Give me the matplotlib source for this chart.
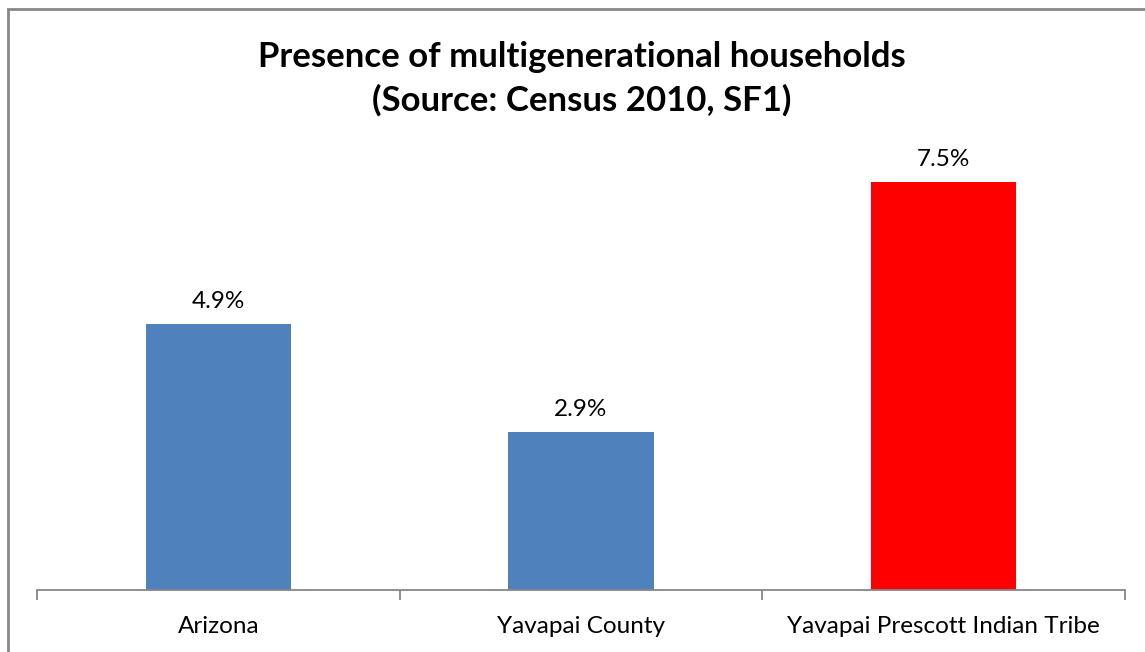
import matplotlib
matplotlib.use("Agg")
import matplotlib.pyplot as plt
from matplotlib.patches import Rectangle

categories = ["Arizona", "Yavapai County", "Yavapai Prescott Indian Tribe"]
values = [4.9, 2.9, 7.5]
labels = ["4.9%", "2.9%", "7.5%"]
colors = ["#4F81BD", "#4F81BD", "#FF0000"]

W, H = 1145, 652
fig = plt.figure(figsize=(W / 100, H / 100), dpi=100)
plt.rcParams['font.family'] = ['Lato', 'DejaVu Sans']

# figure border (left and top visible)
fig.add_artist(Rectangle((8 / W, -0.1), 1.2, (H - 9) / H + 0.1, transform=fig.transFigure,
                         fill=False, edgecolor="#878787", linewidth=2))

ax = fig.add_axes([37 / W, (H - 590) / H, (1125 - 37) / W, (590 - 155) / H])
x = list(range(len(categories)))
ax.bar(x, values, width=0.4, color=colors)
for xi, v, lab in zip(x, values, labels):
    ax.text(xi, v + 0.22, lab, ha="center", va="bottom", fontsize=17.5)

ax.set_xlim(-0.5, 2.5)
ax.set_ylim(0, 8)
ax.set_yticks([])
ax.set_xticks(x)
ax.set_xticklabels(categories, fontsize=17.5)
ax.tick_params(axis="x", length=0, pad=19)
ax.set_xticks([-0.5, 0.5, 1.5, 2.5], minor=True)
ax.tick_params(axis="x", which="minor", length=7, color="#878787", width=1.3)
for s in ["top", "right", "left"]:
    ax.spines[s].set_visible(False)
ax.spines["bottom"].set_color("#878787")
ax.spines["bottom"].set_linewidth(1.3)

fig.text(582 / W, 1 - 79 / H, "Presence of multigenerational households\n(Source: Census 2010, SF1)",
         ha="center", va="center", fontsize=25, fontweight="bold", linespacing=1.4)

fig.savefig("out.png", dpi=100)
